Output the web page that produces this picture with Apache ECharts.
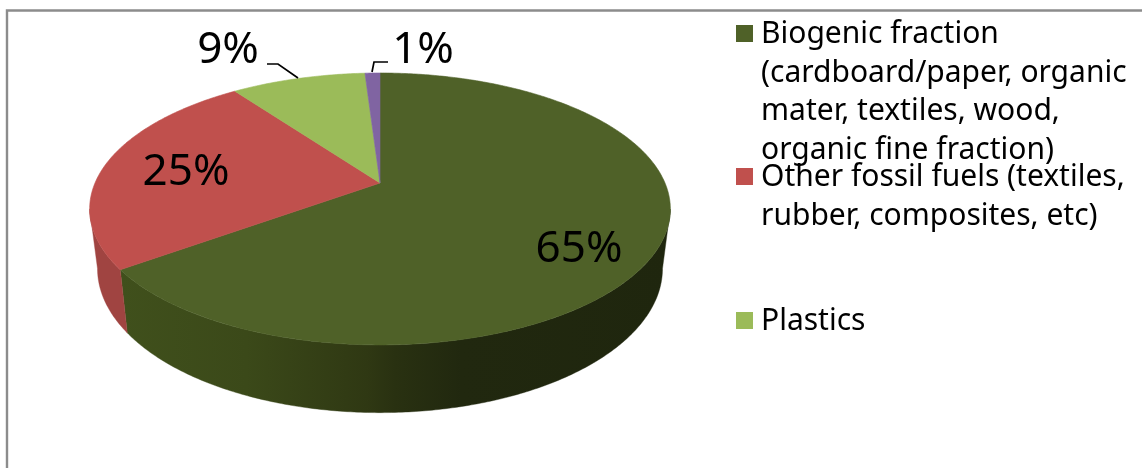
<!DOCTYPE html>
<html><head><meta charset="utf-8">
<style>html,body{margin:0;padding:0;background:#fff}#c{width:1142px;height:468px}</style>
<script src="https://cdn.jsdelivr.net/npm/echarts@6/dist/echarts.min.js"></script>
</head><body><div id="c"></div>
<script>
const categories = [
  'Biogenic fraction\n(cardboard/paper, organic\nmater, textiles, wood,\norganic fine fraction)',
  'Other fossil fuels (textiles,\nrubber, composites, etc)',
  'Plastics',
  'Other'
];
const values = [65, 25, 9, 1];
const colors = ['#4f6128', '#c0504d', '#9bbb59', '#8064a2'];

// layout of the tilted pie
const FONT = '"Noto Sans", sans-serif';
const CX = 380, CY = 183, A = 285, B = 131, K = 0.191;
const BOTTOM = { sx: 0.973, sy: 1.06, y0: 241 };
const labelPos = [[579, 249], [186, 172], [228, 50], [423, 50]];
const leaders = [null, null, [[267, 64], [278, 64], [298, 78]], [[372, 72], [374, 62], [388, 62]]];
const legendLayout = [{ top: 15.5, h: 154 }, { top: 158.5, h: 77 }, { top: 302.5, h: 38.5 }];
const ICON_DY = 9.5;

const total = values.reduce((a, b) => a + b, 0);
const starts = values.map((_, i) => values.slice(0, i).reduce((a, b) => a + b, 0) / total * 2 * Math.PI);

function topPt(t) {
  const u = Math.sin(t), v = Math.cos(t), d = 1 + K * v;
  return [CX + A * u / d, CY - B * v / d];
}
function botPt(t) {
  const p = topPt(t);
  return [CX + (p[0] - CX) * BOTTOM.sx, BOTTOM.y0 + (p[1] - CY) * BOTTOM.sy];
}
function arc(fn, a, b) {
  const n = Math.max(2, Math.ceil((b - a) / 0.01)), out = [];
  for (let i = 0; i <= n; i++) out.push(fn(a + (b - a) * i / n));
  return out;
}
const wallFrom = Math.acos(-K), wallTo = 2 * Math.PI - wallFrom;

const wallFill = [
  { type: 'linear', x: 0, y: 0, x2: 1, y2: 0, colorStops: [
    { offset: 0, color: '#40501c' }, { offset: 0.23, color: '#3b4919' },
    { offset: 0.45, color: '#2f3813' }, { offset: 0.5, color: '#293111' },
    { offset: 0.62, color: '#21280f' }, { offset: 1, color: '#1f260e' }] },
  '#a04441', '#7c9a46', '#6a5388'
];

const series = values.map((val, i) => ({
  type: 'custom',
  name: categories[i],
  coordinateSystem: 'none',
  silent: true,
  itemStyle: { color: colors[i] },
  data: [[val]],
  renderItem(params, api) {
    const a = starts[i], b = a + api.value(0) / total * 2 * Math.PI;
    const children = [];
    const wa = Math.max(a, wallFrom), wb = Math.min(b, wallTo);
    if (wb > wa) {
      const t = arc(topPt, wa, wb), bo = arc(botPt, wa, wb).reverse();
      children.push({ type: 'polygon', z2: 1, shape: { points: t.concat(bo) },
        style: { fill: wallFill[i], stroke: wallFill[i], lineWidth: 0.4 } });
    }
    children.push({ type: 'polygon', z2: 2,
      shape: { points: [[CX, CY]].concat(arc(topPt, a, b)) },
      style: { fill: colors[i], stroke: colors[i], lineWidth: 0.6 } });
    if (leaders[i]) children.push({ type: 'polyline', z2: 3, shape: { points: leaders[i] },
      style: { stroke: '#000', lineWidth: 1.7, fill: null } });
    children.push({ type: 'text', z2: 4, x: labelPos[i][0], y: labelPos[i][1],
      style: { text: Math.round(api.value(0) / total * 100) + '%', font: '44px ' + FONT,
        fill: '#000', align: 'center', verticalAlign: 'middle' } });
    return { type: 'group', children };
  }
}));

const legend = legendLayout.map((l, i) => ({
  left: 736, top: l.top, padding: 0,
  orient: 'vertical', selectedMode: false,
  data: [categories[i]],
  itemWidth: 20, itemHeight: l.h,
  icon: 'path://M20 0h.01 M0 ' + ICON_DY + 'h17v17h-17Z M20 ' + l.h + 'h.01',
  textStyle: { fontFamily: FONT, fontSize: 30, lineHeight: 38.5, color: '#000' }
}));

const chart = echarts.init(document.getElementById('c'), null, { renderer: 'canvas' });
chart.setOption({
  animation: false,
  backgroundColor: '#fff',
  legend,
  series,
  graphic: [{ type: 'polyline', silent: true, z: -1,
    shape: { points: [[7, 468], [7, 10.5], [1142, 10.5]] },
    style: { stroke: '#8c8c8c', lineWidth: 2.4, fill: null } }]
});
</script></body></html>
